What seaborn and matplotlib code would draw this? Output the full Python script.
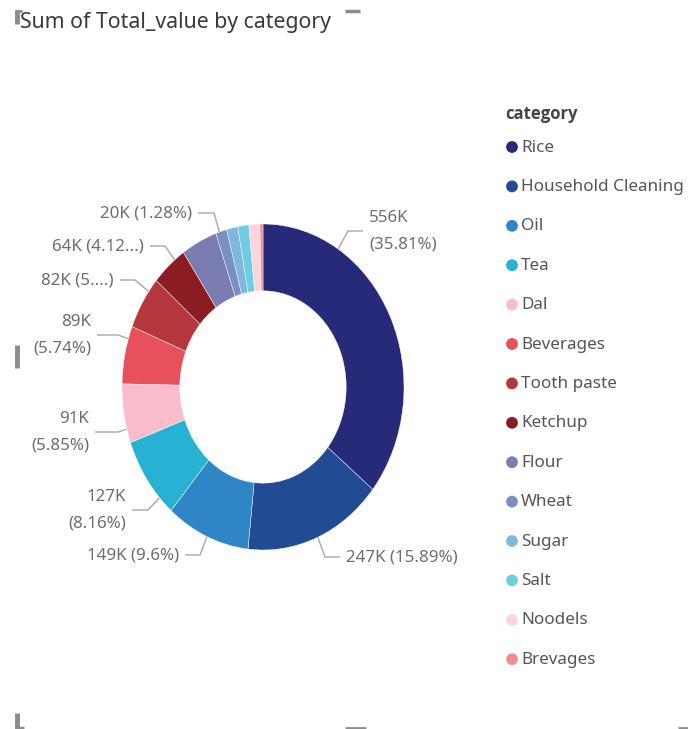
import matplotlib
matplotlib.use("Agg")
import numpy as np
import matplotlib.pyplot as plt
import seaborn as sns

# ---- data (thousands) ----
categories = ["Rice", "Household Cleaning", "Oil", "Tea", "Dal", "Beverages",
              "Tooth paste", "Ketchup", "Flour", "Wheat", "Sugar", "Salt",
              "Noodels", "Brevages"]
totals_k = [556.0, 246.7, 149.1, 126.7, 90.8, 89.1,
            82.0, 64.0, 63.9, 19.9, 19.8, 19.7,
            19.5, 5.4]
slice_colors = ["#262a78", "#214b93", "#2f86c6", "#27b1d3", "#f8bccb", "#e8505b",
                "#b5363b", "#8b1c22", "#7b7cb1", "#7890c2", "#80b7df", "#6dcde2",
                "#fbd4de", "#ef8d93"]

# ---- styling / layout ----
sns.set_theme(style="white")
plt.rcParams["font.family"] = ["Noto Sans", "DejaVu Sans"]

W, H = 688, 729
fig = plt.figure(figsize=(W / 100, H / 100), dpi=100)
fig.patch.set_facecolor("white")

# full-figure overlay in pixel units for title, legend and labels
ov = fig.add_axes([0, 0, 1, 1])
ov.set_xlim(0, W)
ov.set_ylim(H, 0)
ov.axis("off")

# donut axes (centre 263,387 ; radii 141 x 163 px)
cx, cy, rx, ry = 263, 387, 141, 163
ax = fig.add_axes([(cx - rx) / W, (H - (cy + ry)) / H, 2 * rx / W, 2 * ry / H])
palette = sns.color_palette(slice_colors)
wedges, _ = ax.pie(totals_k, colors=palette, startangle=90, counterclock=False,
                   radius=1.0, wedgeprops=dict(width=0.41, edgecolor="white", linewidth=0.3))
ax.set_aspect("auto")
ax.set_xlim(-1, 1)
ax.set_ylim(-1, 1)
ax.axis("off")
ax.patch.set_alpha(0)

# title
ov.text(20, 22, "Sum of Total_value by category", fontsize=15.3, color="#3a3a3a",
        va="center", ha="left")

# ---- data labels with leader lines ----
total = sum(totals_k)
label_layout = {  # elbow x, elbow y, end of horizontal run x (px), two-line text
    "Rice": (348, 231, 363, True),
    "Household Cleaning": (325, 557, 340, False),
    "Oil": (200, 555, 185, False),
    "Tea": (148, 510, 132, True),
    "Dal": (118, 432, 95, True),
    "Beverages": (118, 335, 97, True),
    "Tooth paste": (135, 280, 120, False),
    "Ketchup": (165, 246, 150, False),
    "Wheat": (214, 213, 198, False),
}
clip_len = {"Tooth paste": 7, "Ketchup": 9}

to_px = ax.transData + ov.transData.inverted()
px_to_data = ov.transData + ax.transData.inverted()

cum = 0.0
for name, val in zip(categories, totals_k):
    c0 = cum / total
    cum += val
    c1 = cum / total
    if name not in label_layout:
        continue
    ex, ey, hx, two_line = label_layout[name]
    side = 1 if hx > ex else -1
    a0 = 90 - c0 * 360
    a1 = 90 - c1 * 360
    dx, dy = px_to_data.transform((ex, ey))
    phi = np.degrees(np.arctan2(dy, dx))
    mid = (a0 + a1) / 2
    phi = phi + 360 * np.round((mid - phi) / 360)
    margin = min(2.0, (a0 - a1) / 4)
    phi = np.clip(phi, a1 + margin, a0 - margin)
    sx, sy = to_px.transform((np.cos(np.radians(phi)), np.sin(np.radians(phi))))
    ov.plot([sx, ex, hx], [sy, ey, ey], color="#a8a8a8", lw=1.0, solid_capstyle="butt")

    pct = f"{val / total * 100:.2f}".rstrip("0").rstrip(".")
    txt = f"{round(val)}K ({pct}%)"
    if name in clip_len:
        txt = txt[:clip_len[name]] + "...)"
    if two_line:
        txt = txt.replace(" ", "\n", 1)
    ov.text(hx + side * 6, ey, txt, fontsize=12.2, color="#6e6e6e",
            ha="left" if side > 0 else "right", va="center",
            multialignment="left" if side > 0 else "right", linespacing=1.85)

# ---- legend ----
ov.text(505, 114, "category", fontsize=12, fontweight="bold", color="#444444",
        va="center", ha="left", family=["Open Sans", "DejaVu Sans"])
leg_y0, leg_step = 147, 39.4
for i, (name, col) in enumerate(zip(categories, palette)):
    y = leg_y0 + i * leg_step
    ov.scatter([512], [y], s=72, color=col, edgecolors="none")
    ov.text(521, y + 0.5, name, fontsize=12.3, color="#555555", va="center", ha="left")

# ---- visual frame handles ----
grey = "#8c8c8c"
for xs, ys, lw in [([16.5, 16.5], [10, 24], 3.5), ([15, 22], [11, 11], 2),
                   ([345, 360], [10.5, 10.5], 2.5),
                   ([16.5, 16.5], [345, 368], 3.5),
                   ([16.5, 16.5], [713, 729], 3.5), ([15, 24], [727.5, 727.5], 2.5),
                   ([345, 366], [728, 728], 2), ([678, 688], [728, 728], 2)]:
    ov.plot(xs, ys, color=grey, lw=lw, solid_capstyle="butt")

fig.savefig("out.png", dpi=100, facecolor="white")
